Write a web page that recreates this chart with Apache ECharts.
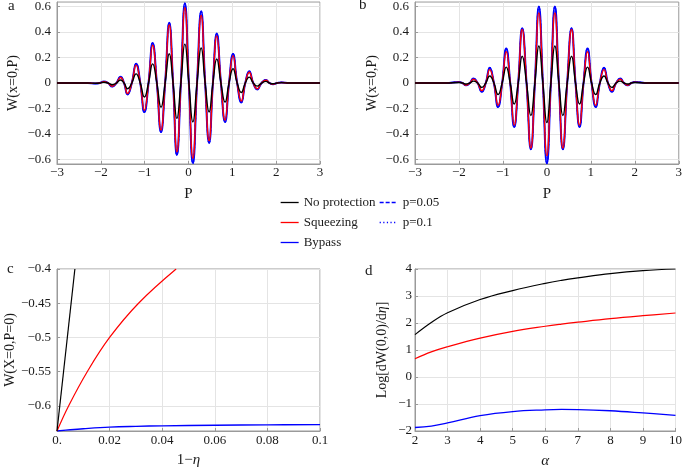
<!DOCTYPE html>
<html><head><meta charset="utf-8">
<script src="https://cdn.jsdelivr.net/npm/echarts@6/dist/echarts.min.js"></script>
<style>html,body{margin:0;padding:0;background:#fff}#c{width:685px;height:470px}</style>
</head><body><div id="c"></div>
<script>
// ---------- Panel a: W(x=0,P) vs P ----------
const aX = [-3, -2.3, -2.12, -2.025, -1.93, -1.835, -1.74, -1.645, -1.55, -1.47, -1.39, -1.293, -1.196, -1.1, -1.007, -0.912, -0.818, -0.722, -0.627, -0.533, -0.439, -0.352, -0.265, -0.174, -0.083, 0.008, 0.1, 0.195, 0.289, 0.38, 0.47, 0.557, 0.645, 0.74, 0.834, 0.925, 1.016, 1.11, 1.205, 1.295, 1.386, 1.477, 1.568, 1.667, 1.766, 1.848, 1.93, 2.025, 2.12, 2.3, 3];
const aBypass = [0, 0, -0.004, 0, 0.012, 0, -0.028, 0, 0.05, 0, -0.09, 0, 0.152, 0, -0.228, 0, 0.313, 0, -0.385, 0, 0.472, 0, -0.565, 0, 0.625, 0, -0.628, 0, 0.562, 0, -0.47, 0, 0.388, 0, -0.305, 0, 0.228, 0, -0.152, 0, 0.092, 0, -0.05, 0, 0.024, 0, -0.01, 0, 0.005, 0, 0];
const aSqueezing = [0, 0, -0.003, 0, 0.01, 0, -0.025, 0, 0.043, 0, -0.082, 0, 0.14, 0, -0.214, 0, 0.296, 0, -0.368, 0, 0.455, 0, -0.54, 0, 0.59, 0, -0.59, 0, 0.53, 0, -0.452, 0, 0.37, 0, -0.29, 0, 0.215, 0, -0.142, 0, 0.085, 0, -0.046, 0, 0.022, 0, -0.009, 0, 0.004, 0, 0];
const aNoProt = [0, 0, -0.002, 0, 0.006, 0, -0.013, 0, 0.024, 0, -0.045, 0, 0.072, 0, -0.11, 0, 0.15, 0, -0.19, 0, 0.23, 0, -0.277, 0, 0.305, 0, -0.305, 0, 0.274, 0, -0.227, 0, 0.188, 0, -0.149, 0, 0.112, 0, -0.074, 0, 0.046, 0, -0.024, 0, 0.013, 0, -0.006, 0, 0.003, 0, 0];

// ---------- Panel b ----------
const bX = [-3, -2.3, -2.0, -1.92, -1.84, -1.755, -1.67, -1.575, -1.48, -1.39, -1.30, -1.205, -1.11, -1.017, -0.925, -0.834, -0.743, -0.652, -0.561, -0.4625, -0.364, -0.273, -0.182, -0.091, 0, 0.091, 0.182, 0.273, 0.364, 0.4625, 0.561, 0.652, 0.743, 0.834, 0.925, 1.017, 1.11, 1.205, 1.30, 1.39, 1.48, 1.575, 1.67, 1.755, 1.84, 1.92, 2.0, 2.3, 3];
const bBypass = [0, 0, 0.008, 0, -0.018, 0, 0.035, 0, -0.068, 0, 0.12, 0, -0.188, 0, 0.27, 0, -0.345, 0, 0.43, 0, -0.52, 0, 0.60, 0, -0.63, 0, 0.60, 0, -0.52, 0, 0.43, 0, -0.345, 0, 0.27, 0, -0.188, 0, 0.12, 0, -0.068, 0, 0.035, 0, -0.018, 0, 0.008, 0, 0];
const bSqueezing = [0, 0, 0.007, 0, -0.017, 0, 0.03, 0, -0.06, 0, 0.105, 0, -0.175, 0, 0.245, 0, -0.33, 0, 0.42, 0, -0.51, 0, 0.55, 0, -0.57, 0, 0.55, 0, -0.51, 0, 0.42, 0, -0.33, 0, 0.245, 0, -0.175, 0, 0.105, 0, -0.06, 0, 0.03, 0, -0.017, 0, 0.007, 0, 0];
const bNoProt = [0, 0, 0.004, 0, -0.008, 0, 0.015, 0, -0.035, 0, 0.055, 0, -0.09, 0, 0.125, 0, -0.165, 0, 0.21, 0, -0.255, 0, 0.29, 0, -0.31, 0, 0.29, 0, -0.255, 0, 0.21, 0, -0.165, 0, 0.125, 0, -0.09, 0, 0.055, 0, -0.035, 0, 0.015, 0, -0.008, 0, 0.004, 0, 0];

// ---------- Panel c: W(X=0,P=0) vs 1-eta ----------
const cNoProtX = [0, 0.0068];
const cNoProtY = [-0.6366, -0.4];
const cSqueezingX = [0, 0.0044, 0.0115, 0.020, 0.031, 0.0453];
const cSqueezingY = [-0.6366, -0.6, -0.55, -0.5, -0.45, -0.4];
const cBypassX = [0, 0.005, 0.01, 0.02, 0.03, 0.04, 0.06, 0.08, 0.1];
const cBypassY = [-0.6366, -0.6348, -0.6333, -0.631, -0.6298, -0.629, -0.6282, -0.6276, -0.6272];

// ---------- Panel d: Log[dW/deta] vs alpha ----------
const dX = [2, 2.5, 3, 4, 5, 6, 6.5, 7, 8, 9, 10];
const dNoProt = [1.57, 2.02, 2.38, 2.87, 3.2, 3.47, 3.58, 3.67, 3.83, 3.94, 4.0];
const dSqueezing = [0.675, 0.93, 1.12, 1.44, 1.69, 1.88, 1.96, 2.03, 2.16, 2.27, 2.37];
const dBypass = [-1.87, -1.82, -1.7, -1.43, -1.28, -1.215, -1.2, -1.205, -1.25, -1.33, -1.42];

// ---------- Tick labels ----------
const abYTicks = [-0.6, -0.4, -0.2, 0, 0.2, 0.4, 0.6];
const abYLabels = ['\u22120.6', '\u22120.4', '\u22120.2', '0', '0.2', '0.4', '0.6'];
const abXTicks = [-3, -2, -1, 0, 1, 2, 3];
const abXLabels = ['\u22123', '\u22122', '\u22121', '0', '1', '2', '3'];
const cXTicks = [0, 0.02, 0.04, 0.06, 0.08, 0.1];
const cXLabels = ['0.', '0.02', '0.04', '0.06', '0.08', '0.1'];
const cYTicks = [-0.6, -0.55, -0.5, -0.45, -0.4];
const cYLabels = ['\u22120.6', '\u22120.55', '\u22120.5', '\u22120.45', '\u22120.4'];
const dXTicks = [2, 3, 4, 5, 6, 7, 8, 9, 10];
const dXLabels = ['2', '3', '4', '5', '6', '7', '8', '9', '10'];
const dYTicks = [-2, -1, 0, 1, 2, 3, 4];
const dYLabels = ['\u22122', '\u22121', '0', '1', '2', '3', '4'];

const FONT = '"Liberation Serif", "DejaVu Serif", serif';
const TXT = '#1a1a1a';
const FRAME = '#9a9a9a';
const GRIDC = '#e4e4e4';
const BLACK = '#000000', RED = '#ff0000', BLUE = '#0000ff';

function zip(xs, ys) { return xs.map((x, i) => [x, ys[i]]); }
function fmt(ticks, labels) {
  return v => { for (let i = 0; i < ticks.length; i++) if (Math.abs(ticks[i] - v) < 1e-9) return labels[i]; return ''; };
}
function xAxis(gi, min, max, ticks, labels, name, gap, margin) {
  return {
    type: 'value', gridIndex: gi, min: min, max: max,
    name: name, nameLocation: 'middle', nameGap: gap,
    nameTextStyle: { fontFamily: FONT, fontSize: 15, color: TXT, rich: { i: { fontFamily: FONT, fontStyle: 'italic', fontSize: 15, color: TXT } } },
    axisLine: { show: true, onZero: false, lineStyle: { color: FRAME, width: 1 } },
    axisTick: { show: true, inside: true, length: 3, customValues: ticks, lineStyle: { color: FRAME } },
    axisLabel: { customValues: ticks, formatter: fmt(ticks, labels), fontFamily: FONT, fontSize: 13, color: TXT, margin: margin },
    splitLine: { show: true, lineStyle: { color: GRIDC, width: 1 } }
  };
}
function yAxis(gi, min, max, ticks, labels, name, gap, margin) {
  return {
    type: 'value', gridIndex: gi, min: min, max: max,
    name: name, nameLocation: 'middle', nameGap: gap,
    nameTextStyle: { fontFamily: FONT, fontSize: 14, color: TXT, rich: { i: { fontFamily: FONT, fontStyle: 'italic', fontSize: 14, color: TXT } } },
    axisLine: { show: true, onZero: false, lineStyle: { color: FRAME, width: 1 } },
    axisTick: { show: true, inside: true, length: 3, customValues: ticks, lineStyle: { color: FRAME } },
    axisLabel: { customValues: ticks, formatter: fmt(ticks, labels), fontFamily: FONT, fontSize: 13, color: TXT, margin: margin },
    splitLine: { show: true, lineStyle: { color: GRIDC, width: 1 } }
  };
}
function line(name, gi, data, color, width, type, smooth) {
  return {
    name: name, type: 'line', xAxisIndex: gi, yAxisIndex: gi, data: data,
    symbol: 'none', showSymbol: false, smooth: smooth, animation: false,
    lineStyle: { color: color, width: width, type: type || 'solid' },
    itemStyle: { color: color }, silent: true
  };
}
const DASH = [4, 2];
const DOT = [1.2, 2.4];

const series = [];
// panel a
series.push(line('Bypass', 0, zip(aX, aBypass), BLUE, 2, 'solid', 0.5));
series.push(line('p=0.05', 0, zip(aX, aBypass), BLUE, 1.2, DASH, 0.5));
series.push(line('p=0.1', 0, zip(aX, aBypass), BLUE, 1.2, DOT, 0.5));
series.push(line('Squeezing', 0, zip(aX, aSqueezing), RED, 1.4, 'solid', 0.5));
series.push(line('No protection', 0, zip(aX, aNoProt), BLACK, 1.4, 'solid', 0.5));
// panel b
series.push(line('Bypass', 1, zip(bX, bBypass), BLUE, 2, 'solid', 0.5));
series.push(line('p=0.05', 1, zip(bX, bBypass), BLUE, 1.2, DASH, 0.5));
series.push(line('p=0.1', 1, zip(bX, bBypass), BLUE, 1.2, DOT, 0.5));
series.push(line('Squeezing', 1, zip(bX, bSqueezing), RED, 1.4, 'solid', 0.5));
series.push(line('No protection', 1, zip(bX, bNoProt), BLACK, 1.4, 'solid', 0.5));
// panel c
series.push(line('Bypass', 2, zip(cBypassX, cBypassY), BLUE, 1.3, 'solid', 0.4));
series.push(line('Squeezing', 2, zip(cSqueezingX, cSqueezingY), RED, 1.2, 'solid', 0.4));
series.push(line('No protection', 2, zip(cNoProtX, cNoProtY), BLACK, 1.2, 'solid', false));
// panel d
series.push(line('Bypass', 3, zip(dX, dBypass), BLUE, 1.3, 'solid', 0.4));
series.push(line('Squeezing', 3, zip(dX, dSqueezing), RED, 1.2, 'solid', 0.4));
series.push(line('No protection', 3, zip(dX, dNoProt), BLACK, 1.2, 'solid', 0.4));

const gridBase = { show: true, borderColor: FRAME, borderWidth: 1, backgroundColor: 'transparent' };
const legendBase = {
  orient: 'vertical', itemWidth: 18, itemHeight: 12, itemGap: 7, selectedMode: false,
  lineStyle: { width: 1.3 }, itemStyle: { opacity: 0, borderWidth: 0 },
  textStyle: { fontFamily: FONT, fontSize: 13, color: TXT }
};
const option = {
  backgroundColor: '#ffffff',
  animation: false,
  grid: [
    Object.assign({ left: 57, top: 2, width: 263, height: 162 }, gridBase),
    Object.assign({ left: 415, top: 2, width: 264, height: 162 }, gridBase),
    Object.assign({ left: 57, top: 269, width: 263, height: 162 }, gridBase),
    Object.assign({ left: 415, top: 269, width: 263, height: 162 }, gridBase)
  ],
  xAxis: [
    xAxis(0, -3, 3, abXTicks, abXLabels, 'P', 23, 2),
    xAxis(1, -3, 3, abXTicks, abXLabels, 'P', 23, 2),
    xAxis(2, 0, 0.1, cXTicks, cXLabels, '1\u2212{i|\u03b7}', 22, 3),
    xAxis(3, 2, 10, dXTicks, dXLabels, '{i|\u03b1}', 23, 3)
  ],
  yAxis: [
    yAxis(0, -0.635, 0.635, abYTicks, abYLabels, 'W(x=0,P)', 37, 6),
    yAxis(1, -0.635, 0.635, abYTicks, abYLabels, 'W(x=0,P)', 36, 6),
    yAxis(2, -0.6366, -0.4, cYTicks, cYLabels, 'W(X=0,P=0)', 37, 6),
    yAxis(3, -2, 4, dYTicks, dYLabels, 'Log[dW(0,0)/d{i|\u03b7}]', 26, 3)
  ],
  legend: [
    Object.assign({ left: 275, top: 191, data: ['No protection', 'Squeezing', 'Bypass'] }, legendBase),
    Object.assign({ left: 374, top: 191, data: ['p=0.05', 'p=0.1'] }, legendBase)
  ],
  graphic: [
    { type: 'text', left: 8, top: -1, style: { text: 'a', font: '15px ' + FONT, fill: TXT } },
    { type: 'text', left: 359, top: -2, style: { text: 'b', font: '15px ' + FONT, fill: TXT } },
    { type: 'text', left: 7, top: 262, style: { text: 'c', font: '15px ' + FONT, fill: TXT } },
    { type: 'text', left: 365, top: 264, style: { text: 'd', font: '15px ' + FONT, fill: TXT } }
  ],
  series: series
};
const chart = echarts.init(document.getElementById('c'), null, { renderer: 'canvas' });
chart.setOption(option);
</script>
</body></html>
